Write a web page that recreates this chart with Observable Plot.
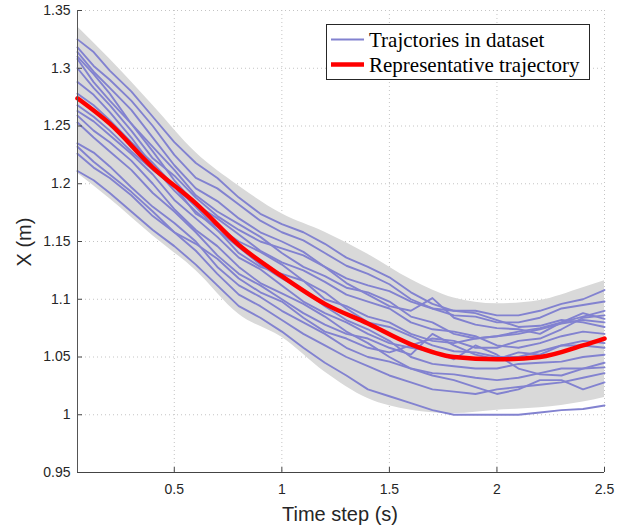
<!DOCTYPE html>
<html><head><meta charset="utf-8">
<script src="https://cdn.jsdelivr.net/npm/d3@7"></script>
<script src="https://cdn.jsdelivr.net/npm/@observablehq/plot@0.6"></script>
<style>body{margin:0;background:#fff} #chart{width:630px;height:528px}</style>
</head><body><div id="chart"></div>
<script>
// time grid (s) for the envelope and the representative trajectory
const timeSteps = [0.05, 0.2, 0.4, 0.6, 0.8, 1.0, 1.2, 1.4, 1.6, 1.8, 2.0, 2.2, 2.4, 2.5];
// shaded envelope
const bandHigh = [1.336, 1.308, 1.268, 1.227, 1.198, 1.174, 1.158, 1.139, 1.117, 1.101, 1.096, 1.099, 1.110, 1.116];
const bandLow  = [1.209, 1.187, 1.155, 1.125, 1.087, 1.067, 1.037, 1.014, 1.004, 1.001, 1.004, 1.006, 1.011, 1.015];
// representative trajectory
const representative = [1.274, 1.252, 1.214, 1.183, 1.147, 1.120, 1.096, 1.079, 1.061, 1.050, 1.048, 1.050, 1.060, 1.066];
// time grid (s) for the dataset trajectories
const trajTimes = [0.05, 0.125, 0.2, 0.3, 0.4, 0.5, 0.6, 0.7, 0.8, 0.9, 1.0, 1.1, 1.2, 1.3, 1.4, 1.5, 1.6, 1.7, 1.8, 1.9, 2.0, 2.1, 2.2, 2.3, 2.4, 2.5];
// trajectories in dataset
const trajectories = [
  [1.325,1.314,1.298,1.280,1.258,1.236,1.218,1.205,1.188,1.174,1.165,1.158,1.148,1.136,1.128,1.119,1.106,1.096,1.090,1.090,1.086,1.086,1.090,1.096,1.100,1.108],
  [1.318,1.302,1.290,1.272,1.250,1.225,1.205,1.196,1.182,1.168,1.158,1.151,1.140,1.129,1.122,1.113,1.100,1.092,1.086,1.085,1.080,1.080,1.084,1.092,1.095,1.098],
  [1.314,1.297,1.283,1.264,1.240,1.216,1.196,1.185,1.170,1.158,1.150,1.141,1.128,1.118,1.112,1.107,1.098,1.092,1.090,1.088,1.082,1.076,1.077,1.082,1.080,1.076],
  [1.310,1.295,1.278,1.252,1.232,1.212,1.190,1.176,1.165,1.154,1.140,1.128,1.120,1.110,1.106,1.098,1.085,1.080,1.070,1.066,1.068,1.072,1.075,1.080,1.088,1.083],
  [1.308,1.288,1.272,1.252,1.228,1.203,1.182,1.170,1.156,1.142,1.132,1.125,1.115,1.104,1.098,1.092,1.080,1.074,1.072,1.068,1.060,1.058,1.062,1.068,1.072,1.070],
  [1.300,1.283,1.268,1.246,1.222,1.207,1.188,1.172,1.160,1.150,1.144,1.138,1.128,1.114,1.104,1.094,1.090,1.101,1.084,1.078,1.075,1.074,1.070,1.080,1.085,1.090],
  [1.288,1.277,1.262,1.240,1.215,1.194,1.176,1.160,1.140,1.128,1.122,1.116,1.106,1.092,1.080,1.076,1.068,1.060,1.055,1.054,1.050,1.050,1.055,1.060,1.060,1.058],
  [1.278,1.268,1.255,1.236,1.218,1.198,1.174,1.163,1.150,1.141,1.130,1.116,1.100,1.094,1.085,1.080,1.070,1.064,1.062,1.066,1.068,1.070,1.074,1.079,1.082,1.080],
  [1.268,1.258,1.246,1.228,1.212,1.198,1.180,1.160,1.145,1.130,1.118,1.108,1.094,1.082,1.074,1.064,1.050,1.044,1.042,1.040,1.040,1.044,1.045,1.046,1.050,1.052],
  [1.263,1.254,1.242,1.226,1.208,1.186,1.170,1.154,1.136,1.126,1.112,1.098,1.088,1.080,1.070,1.062,1.058,1.055,1.048,1.060,1.052,1.040,1.035,1.034,1.040,1.045],
  [1.259,1.246,1.236,1.220,1.200,1.178,1.160,1.146,1.128,1.114,1.105,1.096,1.085,1.072,1.062,1.050,1.040,1.036,1.035,1.032,1.030,1.032,1.036,1.040,1.040,1.041],
  [1.253,1.240,1.228,1.212,1.192,1.176,1.158,1.138,1.122,1.112,1.100,1.088,1.078,1.070,1.066,1.058,1.052,1.070,1.060,1.052,1.048,1.054,1.052,1.060,1.064,1.062],
  [1.235,1.227,1.215,1.197,1.180,1.166,1.150,1.128,1.112,1.102,1.090,1.080,1.070,1.058,1.050,1.046,1.040,1.034,1.030,1.024,1.018,1.022,1.030,1.030,1.022,1.028],
  [1.232,1.219,1.208,1.193,1.176,1.158,1.142,1.122,1.104,1.094,1.082,1.070,1.060,1.050,1.042,1.034,1.028,1.022,1.020,1.018,1.022,1.024,1.026,1.028,1.032,1.036],
  [1.226,1.214,1.205,1.190,1.172,1.158,1.148,1.135,1.118,1.106,1.098,1.084,1.072,1.066,1.058,1.054,1.060,1.066,1.064,1.058,1.058,1.064,1.066,1.074,1.084,1.086],
  [1.211,1.203,1.192,1.176,1.160,1.146,1.130,1.112,1.094,1.084,1.072,1.058,1.045,1.034,1.022,1.016,1.010,1.004,1.000,1.000,1.000,1.000,1.002,1.004,1.005,1.008]
];
const xTicks = [0.5, 1, 1.5, 2, 2.5];
const yTicks = [0.95, 1, 1.05, 1.1, 1.15, 1.2, 1.25, 1.3, 1.35];
const legendLabels = ["Trajctories in dataset", "Representative trajectory"];
const xLabel = "Time step (s)";
const yLabel = "X (m)";

const bandRows = timeSteps.map((t, i) => ({t, lo: bandLow[i], hi: bandHigh[i]}));
const trajRows = trajectories.flatMap((arr, k) => arr.map((v, i) => ({t: trajTimes[i], v, id: k})));
const repRows = timeSteps.map((t, i) => ({t, v: representative[i]}));

const blue = "#8282d0", red = "#ff0000", axisColor = "#444";

const plot = Plot.plot({
  width: 630, height: 528,
  marginLeft: 77, marginRight: 26, marginTop: 10, marginBottom: 56,
  x: {domain: [0.05, 2.5]},
  y: {domain: [0.95, 1.35]},
  style: {fontFamily: "'Liberation Sans', Arial, sans-serif", fontSize: "14px", color: "#262626", background: "#fff"},
  marks: [
    Plot.gridX(xTicks, {stroke: "#c4c4c4", strokeOpacity: 1, strokeDasharray: "1,3"}),
    Plot.gridY(yTicks, {stroke: "#c4c4c4", strokeOpacity: 1, strokeDasharray: "1,3"}),
    Plot.areaY(bandRows, {x: "t", y1: "lo", y2: "hi", fill: "#d9d9d9", curve: "monotone-x"}),
    Plot.line(trajRows, {x: "t", y: "v", z: "id", stroke: blue, strokeWidth: 1.9}),
    Plot.line(repRows, {x: "t", y: "v", stroke: red, strokeWidth: 4.5, curve: "monotone-x"}),
    // inward tick marks
    Plot.axisX(xTicks, {tickSize: 5, dy: -5, tickFormat: () => "", label: null, stroke: axisColor}),
    Plot.axisY(yTicks, {tickSize: 5, dx: 5, tickFormat: () => "", label: null, stroke: axisColor}),
    // tick labels
    Plot.axisX(xTicks, {tickSize: 0, tickPadding: 12, label: null, tickFormat: d => String(d)}),
    Plot.axisY(yTicks, {tickSize: 0, tickPadding: 7, label: null, tickFormat: d => String(d)}),
    Plot.ruleX([0.05], {stroke: "#555"}),
    Plot.ruleY([0.95], {stroke: axisColor})
  ]
});
document.getElementById("chart").appendChild(plot);

const svg = d3.select(plot);
svg.append("text").attr("x", 340).attr("y", 521).attr("text-anchor", "middle")
  .attr("font-size", 20).attr("fill", "#262626").text(xLabel);
svg.append("text").attr("transform", "translate(31,242) rotate(-90)").attr("text-anchor", "middle")
  .attr("font-size", 20).attr("fill", "#262626").text(yLabel);

const lg = svg.append("g").attr("font-family", "'Liberation Serif', 'Times New Roman', serif")
  .attr("font-size", 21).attr("text-anchor", "start");
lg.append("rect").attr("x", 326.5).attr("y", 24.5).attr("width", 263).attr("height", 55)
  .attr("fill", "#fff").attr("stroke", "#262626").attr("stroke-width", 1);
lg.append("line").attr("x1", 331).attr("x2", 364).attr("y1", 39.5).attr("y2", 39.5).attr("stroke", blue).attr("stroke-width", 1.9);
lg.append("line").attr("x1", 331).attr("x2", 364).attr("y1", 64.5).attr("y2", 64.5).attr("stroke", red).attr("stroke-width", 4.5);
lg.append("text").attr("x", 369).attr("y", 47).attr("fill", "#000").text(legendLabels[0]);
lg.append("text").attr("x", 369).attr("y", 72).attr("fill", "#000").text(legendLabels[1]);
</script>
</body></html>
